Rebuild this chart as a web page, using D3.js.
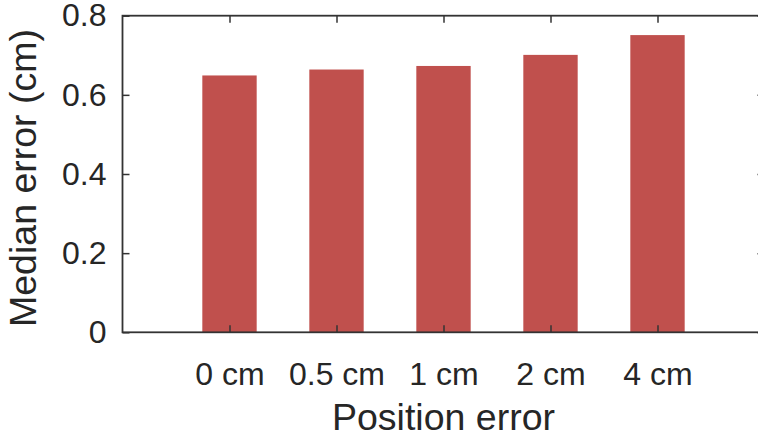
<!DOCTYPE html>
<html>
<head>
<meta charset="utf-8">
<script src="https://cdn.jsdelivr.net/npm/d3@7"></script>
<style>
  html, body { margin: 0; padding: 0; background: #fff; }
  svg { display: block; }
  text { font-family: "Liberation Sans", Arial, Helvetica, sans-serif; fill: #262626; }
</style>
</head>
<body>
<svg id="chart" width="758" height="438"></svg>
<script>
// Median error for each simulated position error
const categories = ["0 cm", "0.5 cm", "1 cm", "2 cm", "4 cm"];
const medianError = [0.649, 0.664, 0.673, 0.701, 0.751];
const yTicks = [0, 0.2, 0.4, 0.6, 0.8];
const yTickLabels = ["0", "0.2", "0.4", "0.6", "0.8"];

const svg = d3.select("#chart");
const plotLeft = 122.5, plotRight = 764.5, plotTop = 15.7, plotBottom = 332.3;
const tickLen = 7;
const axisColor = "#333333";

// Categories sit at integer positions 1..n inside a 0..n+1 frame
const x = d3.scaleLinear().domain([0, categories.length + 1]).range([plotLeft, plotRight]);
const y = d3.scaleLinear().domain([0, 0.8]).range([plotBottom, plotTop]);
const barWidth = (x(1) - x(0)) * 0.508;

// Bars
svg.append("g")
  .selectAll("rect")
  .data(medianError)
  .join("rect")
  .attr("x", (d, i) => x(i + 1) - barWidth / 2)
  .attr("y", d => y(d))
  .attr("width", barWidth)
  .attr("height", d => y(0) - y(d))
  .attr("fill", "#C0504D");

const catPositions = categories.map((c, i) => i + 1);

// Left axis with inward ticks
const gLeft = svg.append("g")
  .attr("transform", `translate(${plotLeft},0)`)
  .call(d3.axisLeft(y).tickValues(yTicks)
    .tickFormat((d, i) => yTickLabels[i])
    .tickSizeInner(-tickLen).tickSizeOuter(0).tickPadding(16));

// Right axis ticks (no labels)
const gRight = svg.append("g")
  .attr("transform", `translate(${plotRight},0)`)
  .call(d3.axisRight(y).tickValues(yTicks).tickFormat("")
    .tickSizeInner(-tickLen).tickSizeOuter(0));

// Bottom axis with category labels
const gBottom = svg.append("g")
  .attr("transform", `translate(0,${plotBottom})`)
  .call(d3.axisBottom(x).tickValues(catPositions)
    .tickFormat((d, i) => categories[i])
    .tickSizeInner(-tickLen).tickSizeOuter(0).tickPadding(30));

// Top axis ticks (no labels)
const gTop = svg.append("g")
  .attr("transform", `translate(0,${plotTop})`)
  .call(d3.axisTop(x).tickValues(catPositions).tickFormat("")
    .tickSizeInner(-tickLen).tickSizeOuter(0));

[gLeft, gRight, gBottom, gTop].forEach(g => {
  g.select(".domain").remove();
  g.selectAll(".tick line").attr("stroke", axisColor).attr("stroke-width", 1.5);
  g.selectAll(".tick text")
    .attr("font-family", "Liberation Sans, Arial, sans-serif")
    .attr("font-size", 32)
    .attr("fill", "#262626");
});

// Frame around the plotting area
svg.append("rect")
  .attr("x", plotLeft).attr("y", plotTop)
  .attr("width", plotRight - plotLeft).attr("height", plotBottom - plotTop)
  .attr("fill", "none")
  .attr("stroke", axisColor)
  .attr("stroke-width", 1.8);

// Axis titles
svg.append("text")
  .attr("x", (plotLeft + plotRight) / 2)
  .attr("y", 430)
  .attr("text-anchor", "middle")
  .attr("font-size", 37.5)
  .text("Position error");

svg.append("text")
  .attr("transform", `translate(36,${(plotTop + plotBottom) / 2 + 4}) rotate(-90)`)
  .attr("text-anchor", "middle")
  .attr("font-size", 37.5)
  .text("Median error (cm)");
</script>
</body>
</html>
